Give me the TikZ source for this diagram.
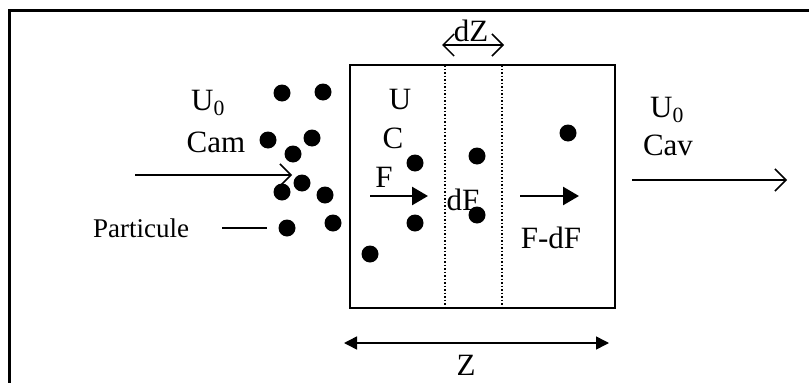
\documentclass[tikz,border=0pt]{standalone}
\usepackage{fontspec}
\setmainfont{Liberation Serif}
\usetikzlibrary{arrows.meta}
\begin{document}
\begin{tikzpicture}[x=1pt,y=-1pt,
    txt/.style={inner sep=0pt,font=\fontsize{31}{33}\selectfont},
    dot/.style={circle,fill=black,inner sep=0pt,minimum size=17pt},
    barb/.tip={Straight Barb[length=11pt,width=22pt,line width=1.5pt]},
    flow/.style={line width=1.5pt,-barb},
    flux/.style={line width=2.6pt,-{Triangle[length=16pt,width=18pt]}},
    span/.style={line width=1.5pt,barb-barb}]
    \useasboundingbox (0,0) rectangle (809,383);

    % frame
    \draw[line width=3pt] (9,383) -- (9,10) -- (809,10);

    % filter bed and slice dZ
    \coordinate (B1) at (350,65);
    \coordinate (B2) at (615,308);
    \draw[line width=1.8pt] (B1) rectangle (B2);
    \foreach \i/\x in {1/445, 2/502} {
      \coordinate (T\i) at (\x,65);
      \coordinate (D\i) at (\x,308);
      \draw[dotted, line width=1.5pt] (T\i) -- (D\i);
    }

    % particles
    \foreach \i/\x/\y in {1/282/93, 2/323/92, 3/268/140, 4/312/138, 5/293/154,
                          6/302/183, 7/282/192, 8/325/195, 9/287/228, 10/333/223,
                          11/370/254, 12/415/163, 13/415/223, 14/477/156,
                          15/477/215, 16/568/133} {
      \node[dot] (p\i) at (\x,\y) {};
    }

    % upstream side
    \node[txt] (U0in) at (208,103) {U\textsubscript{0}};
    \node[txt] (Cam) at (216,142) {Cam};
    \node[txt, font=\fontsize{27}{29}\selectfont] (part) at (141,228) {Particule};
    \coordinate (inA) at (135,175);
    \coordinate (inB) at (292,175);
    \draw[flow] (inA) -- (inB);
    \coordinate (pl) at (222,228);
    \coordinate (pr) at (267,228);
    \draw[line width=1.5pt] (pl) -- (pr);

    % inside the bed
    \node[txt] (U) at (400,100) {U};
    \node[txt] (C) at (393,138) {C};
    \node[txt] (F) at (384,177) {F};
    \node[txt] (dF) at (463,200) {dF};
    \node[txt] (FdF) at (551,238) {F-dF};
    \coordinate (fA) at (370,196);
    \coordinate (fB) at (428,196);
    \draw[flux] (fA) -- (fB);
    \coordinate (gA) at (520,196);
    \coordinate (gB) at (579,196);
    \draw[flux] (gA) -- (gB);

    % downstream side
    \node[txt] (U0out) at (667,110) {U\textsubscript{0}};
    \node[txt] (Cav) at (668,145) {Cav};
    \coordinate (outA) at (632,180);
    \coordinate (outB) at (787,180);
    \draw[flow] (outA) -- (outB);

    % dimensions
    \node[txt] (dZ) at (471,31) {dZ};
    \coordinate (dzA) at (442,45);
    \coordinate (dzB) at (504,45);
    \draw[span] (dzA) -- (dzB);
    \node[txt] (Z) at (466,365) {Z};
    \coordinate (zA) at (344,343);
    \coordinate (zB) at (609,343);
    \draw[line width=1.5pt, {Triangle[length=13pt,width=13pt]}-{Triangle[length=13pt,width=13pt]}] (zA) -- (zB);
  \end{tikzpicture}
\end{document}
